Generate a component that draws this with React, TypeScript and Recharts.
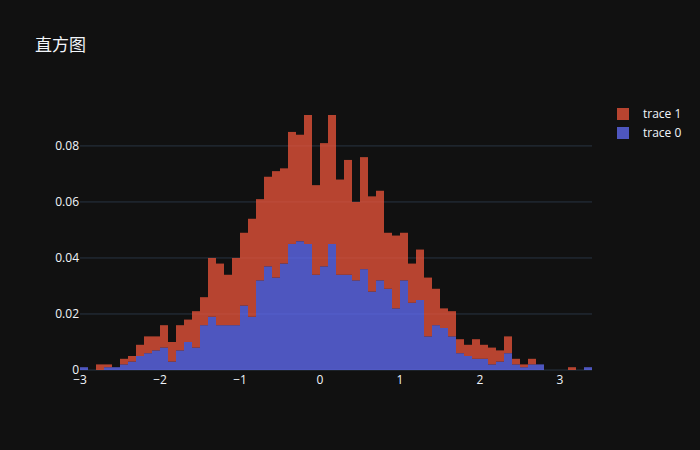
import { BarChart, Bar, XAxis, YAxis, CartesianGrid } from "recharts";

// bin centres, bin width 0.1 from -3.0 to 3.4
const binCenters = [
  -2.95, -2.85, -2.75, -2.65, -2.55, -2.45, -2.35, -2.25, -2.15, -2.05,
  -1.95, -1.85, -1.75, -1.65, -1.55, -1.45, -1.35, -1.25, -1.15, -1.05,
  -0.95, -0.85, -0.75, -0.65, -0.55, -0.45, -0.35, -0.25, -0.15, -0.05,
  0.05, 0.15, 0.25, 0.35, 0.45, 0.55, 0.65, 0.75, 0.85, 0.95,
  1.05, 1.15, 1.25, 1.35, 1.45, 1.55, 1.65, 1.75, 1.85, 1.95,
  2.05, 2.15, 2.25, 2.35, 2.45, 2.55, 2.65, 2.75, 2.85, 2.95,
  3.05, 3.15, 3.25, 3.35,
];

// probability per bin
const trace0 = [
  0.001, 0, 0, 0.001, 0.001, 0.002, 0.003, 0.005, 0.006, 0.007,
  0.008, 0.003, 0.007, 0.01, 0.008, 0.016, 0.019, 0.016, 0.016, 0.016,
  0.023, 0.019, 0.032, 0.037, 0.033, 0.038, 0.045, 0.046, 0.045, 0.034,
  0.037, 0.045, 0.034, 0.034, 0.032, 0.036, 0.028, 0.032, 0.029, 0.022,
  0.032, 0.024, 0.025, 0.012, 0.016, 0.015, 0.012, 0.006, 0.005, 0.004,
  0.004, 0.002, 0.003, 0.006, 0.002, 0.001, 0.002, 0.002, 0, 0,
  0, 0, 0, 0.001,
];

const trace1 = [
  0, 0, 0.002, 0.001, 0, 0.002, 0.002, 0.004, 0.006, 0.005,
  0.008, 0.007, 0.009, 0.008, 0.013, 0.01, 0.021, 0.022, 0.018, 0.024,
  0.026, 0.035, 0.029, 0.032, 0.038, 0.034, 0.04, 0.038, 0.046, 0.032,
  0.044, 0.046, 0.034, 0.041, 0.028, 0.04, 0.034, 0.032, 0.02, 0.026,
  0.017, 0.014, 0.018, 0.021, 0.013, 0.007, 0.009, 0.005, 0.004, 0.007,
  0.005, 0.006, 0.004, 0.006, 0.002, 0.001, 0.002, 0, 0, 0,
  0, 0.001, 0, 0,
];

const xTicks = [-3, -2, -1, 0, 1, 2, 3];
const yTicks = [0, 0.02, 0.04, 0.06, 0.08];

const data = binCenters.map((x, i) => ({
  x,
  trace0: trace0[i],
  trace1: trace1[i],
}));

const BG = "#111111";
const TEXT = "#f2f5fa";
const GRID = "#283442";
const BLUE = "#636efa";
const RED = "#EF553B";
const FONT = '"Open Sans", verdana, arial, sans-serif';

const fmtX = (v: number) => String(v).replace("-", "\u2212");
const fmtY = (v: number) => (v === 0 ? "0" : v.toFixed(2));

function LegendRow({ color, label, top }: { color: string; label: string; top: number }) {
  return (
    <div style={{ position: "absolute", left: 617, top, height: 12, display: "flex", alignItems: "center" }}>
      <div style={{ width: 12, height: 12, background: color, opacity: 0.75 }} />
      <span style={{ marginLeft: 14, fontSize: 12, color: TEXT, fontFamily: FONT, lineHeight: "12px" }}>
        {label}
      </span>
    </div>
  );
}

export default function App() {
  return (
    <div
      style={{
        position: "absolute",
        left: 0,
        top: 0,
        width: 700,
        height: 450,
        background: BG,
        fontFamily: FONT,
        overflow: "hidden",
      }}
    >
      <div
        style={{
          position: "absolute",
          left: 35,
          top: 36,
          fontSize: 17,
          lineHeight: "17px",
          color: TEXT,
          fontFamily: '"Open Sans", "Noto Sans CJK SC", sans-serif',
        }}
      >
        直方图
      </div>
      <BarChart
        width={700}
        height={450}
        data={data}
        margin={{ top: 100, right: 108, bottom: 50, left: 40 }}
        barCategoryGap={0}
        barGap={0}
      >
        <CartesianGrid vertical={false} horizontalValues={yTicks} stroke={GRID} strokeWidth={1} />
        <XAxis
          type="number"
          dataKey="x"
          domain={[-3, 3.4]}
          ticks={xTicks}
          interval={0}
          allowDataOverflow
          tickFormatter={fmtX}
          axisLine={false}
          tickLine={false}
          tickSize={0}
          tickMargin={5}
          height={30}
          tick={{ fill: TEXT, fontSize: 12, fontFamily: FONT }}
        />
        <YAxis
          type="number"
          domain={[0, 0.0964]}
          ticks={yTicks}
          interval={0}
          tickFormatter={fmtY}
          axisLine={false}
          tickLine={false}
          tickSize={0}
          tickMargin={1}
          width={40}
          tick={{ fill: TEXT, fontSize: 12, fontFamily: FONT }}
        />
        <Bar dataKey="trace0" stackId="h" fill={BLUE} fillOpacity={0.75} isAnimationActive={false} />
        <Bar dataKey="trace1" stackId="h" fill={RED} fillOpacity={0.75} isAnimationActive={false} />
      </BarChart>
      <LegendRow color={RED} label="trace 1" top={108} />
      <LegendRow color={BLUE} label="trace 0" top={127} />
    </div>
  );
}
